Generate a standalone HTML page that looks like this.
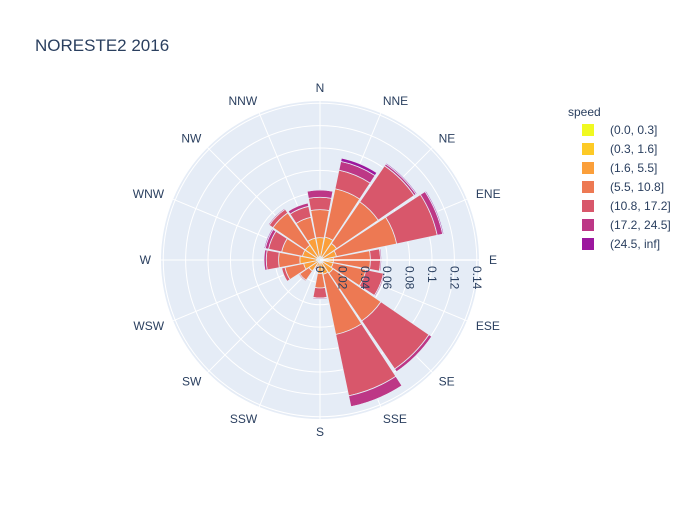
<!DOCTYPE html>
<html><head><meta charset="utf-8"><style>
body{margin:0;background:#fff;}
svg{font-family:"Liberation Sans",Arial,sans-serif;}
</style></head><body>
<svg id="chart" width="700" height="500" viewBox="0 0 700 500">
<rect width="700" height="500" fill="#fff"/>
<text x="35" y="51" font-size="17" fill="#2a3f5f">NORESTE2 2016</text>
<g id="polar"></g>
<g id="legend"></g>
</svg>
<script>
const directions=["N","NNE","NE","ENE","E","ESE","SE","SSE","S","SSW","SW","WSW","W","WNW","NW","NNW"];
const speedBins=["(0.0, 0.3]","(0.3, 1.6]","(1.6, 5.5]","(5.5, 10.8]","(10.8, 17.2]","(17.2, 24.5]","(24.5, inf]"];
const binColors=["#f0f921","#fdca26","#fb9f3a","#ed7953","#d8576b","#bd3786","#9c179e"];
const bin0=[.001,.001,.001,.001,.001,.001,.001,.001,.001,.001,.001,.001,.001,.001,.001,.001];
const bin1=[.002,.002,.002,.002,.002,.002,.002,.002,.001,.001,.001,.001,.002,.002,.002,.002];
const bin2=[.017,.018,.015,.012,.009,.009,.011,.010,.010,.004,.010,.013,.015,.013,.013,.017];
const bin3=[.025,.044,.045,.055,.033,.030,.052,.055,.013,.002,.010,.017,.019,.019,.035,.019];
const bin4=[.011,.017,.039,.037,.009,.016,.052,.056,.009,.001,.001,.003,.011,.012,.004,.010];
const bin5=[.0065,.008,.002,.005,.001,.001,.003,.010,.001,0,0,0,.002,.003,.001,.003];
const bin6=[.0005,.003,.001,.001,0,0,.0005,.0005,0,0,0,0,0,.001,0,0];
const series=[bin0,bin1,bin2,bin3,bin4,bin5,bin6];
const radialTicks=[0,0.02,0.04,0.06,0.08,0.1,0.12,0.14];
const tickLabels=["0","0.02","0.04","0.06","0.08","0.1","0.12","0.14"];

const NS="http://www.w3.org/2000/svg";
const cx=320,cy=260,R=159,rMax=0.142;
const rScale=v=>v/rMax*R;
const pt=(deg,r)=>{const a=deg*Math.PI/180;return [cx+r*Math.sin(a),cy-r*Math.cos(a)];};
const dirAngle=i=>i*360/directions.length;
function mk(tag,attrs,parent){const e=document.createElementNS(NS,tag);for(const k in attrs)e.setAttribute(k,attrs[k]);parent.appendChild(e);return e;}
const polar=document.getElementById('polar');
const bg=mk('circle',{cx:cx,cy:cy,r:R,fill:'#e5ecf6'},polar);


radialTicks.forEach((t,i)=>{if(t===0)return;const c=mk('circle',{cx:cx,cy:cy,r:rScale(t),fill:'none',stroke:'#fff','stroke-width':1},polar);

});
directions.forEach((d,i)=>{const p=pt(dirAngle(i),R);const l=mk('line',{x1:cx,y1:cy,x2:p[0],y2:p[1],stroke:'#fff','stroke-width':1},polar);

});
const half=10.6;
directions.forEach((d,i)=>{let base=0;series.forEach((s,b)=>{const v=s[i];if(v<=0)return;const r0=rScale(base),r1=rScale(base+v);base+=v;
const a0=dirAngle(i)-half,a1=dirAngle(i)+half;const p1=pt(a0,r0),p2=pt(a0,r1),p3=pt(a1,r1),p4=pt(a1,r0);
const dd=`M${p1[0]},${p1[1]} L${p2[0]},${p2[1]} A${r1},${r1} 0 0 1 ${p3[0]},${p3[1]} L${p4[0]},${p4[1]} A${r0},${r0} 0 0 0 ${p1[0]},${p1[1]} Z`;
const path=mk('path',{d:dd,fill:binColors[b],stroke:'#e5ecf6','stroke-width':0.8},polar);

});});
const ax=mk('line',{x1:cx,y1:cy,x2:cx+R,y2:cy,stroke:'#fff','stroke-width':1.5},polar);


radialTicks.forEach((t,i)=>{const x=cx+rScale(t);const tx=mk('text',{x:0,y:0,'font-size':12,fill:'#2a3f5f',transform:`translate(${x-4},${cy+6}) rotate(90)`},polar);tx.textContent=tickLabels[i];

});
directions.forEach((d,i)=>{const a=dirAngle(i);const p=pt(a,R+13);const s=Math.sin(a*Math.PI/180);
const anchor=Math.abs(s)<0.2?'middle':(s>0?'start':'end');
const tx=mk('text',{x:p[0]+(anchor==='start'?-3:anchor==='end'?3:0),y:p[1]+4,'font-size':12,fill:'#2a3f5f','text-anchor':anchor},polar);tx.textContent=d;

});
const lg=document.getElementById('legend');
const lt=mk('text',{x:568,y:116,'font-size':12,fill:'#2a3f5f'},lg);lt.textContent='speed';


speedBins.forEach((s,i)=>{const y=130+i*19;const g=mk('g',{},lg);


mk('rect',{x:582,y:y-6,width:12,height:12,fill:binColors[i]},g);
const t=mk('text',{x:610,y:y+4,'font-size':12,fill:'#2a3f5f'},g);t.textContent=s;});
</script>
</body></html>
